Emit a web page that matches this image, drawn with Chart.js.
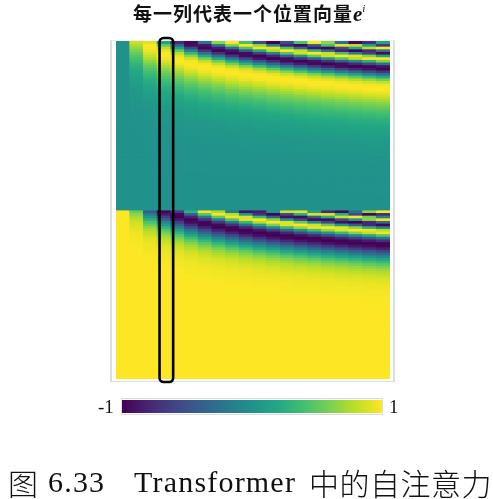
<!DOCTYPE html>
<html>
<head>
<meta charset="utf-8">
<script src="https://cdn.jsdelivr.net/npm/chart.js@4"></script>
<style>
  body { margin: 0; background: #fff; width: 493px; height: 499px; position: relative; overflow: hidden; }
  div, canvas, span { position: absolute; }
  #heat { left: 0; top: 0; filter: blur(0.35px); }
  #frame { left: 110px; top: 40px; width: 281px; height: 340px; border: solid #dedede; border-width: 1px 2px 1.5px 2px; border-top-color: #efefef; }
  #barFrame { left: 121px; top: 398px; width: 260px; height: 15px; border: 1px solid #ddd; }
  #bar { left: 122px; top: 400px; }
  #title { left: 133px; top: 0; height: 26px; line-height: 26px; white-space: nowrap; font: bold 19px/26px "Noto Sans CJK SC"; letter-spacing: 1px; color: #111; }
  #title i { font: italic bold 21px/26px "Liberation Serif"; letter-spacing: 0; }
  #title sup { font: italic 11px "Liberation Serif"; position: relative; top: -1px; vertical-align: 8px; letter-spacing: 0; }
  .tick { font: 19px/18px "Liberation Serif"; color: #111; top: 398px; }
  .cap { top: 464px; line-height: 36px; white-space: nowrap; color: #111; }
  .latin { font-family: "Liberation Serif"; font-size: 30px; letter-spacing: 1.2px; }
  .cjk { font-family: "Noto Sans CJK SC"; font-size: 30px; font-weight: 300; letter-spacing: 0.5px; }
</style>
</head>
<body>
<div id="frame"></div>
<canvas id="heat" width="493" height="499"></canvas>
<div id="barFrame"></div>
<canvas id="bar" width="260" height="13"></canvas>
<div id="title">每一列代表一个位置向量<i>e</i><sup>i</sup></div>
<span class="tick" id="tickLow" style="left:98px"></span>
<span class="tick" id="tickHigh" style="left:389px"></span>
<span class="cap cjk" style="left:8px">图</span>
<span class="cap latin" style="left:48px">6.33</span>
<span class="cap latin" style="left:134px">Transformer</span>
<span class="cap cjk" style="left:309px">中的自注意力</span>
<script>
const positions = [0,1,2,3,4,5,6,7,8,9,10,11,12,13,14,15,16,17,18,19];
const highlightColumn = 3;
const colorbarTicks = ['-1', '1'];
const viridisStops = ['#440154','#482475','#414487','#355f8d','#2a788e','#21918c','#22a884','#44bf70','#7ad151','#bddf26','#fde725'];

// cell values in hundredths, one row per vector dimension
const sinFlat = [0,0,0,0,0,0,0,0,0,0,0,0,0,0,0,0,0,0,0,0];
const cosFlat = [100,100,100,100,100,100,100,100,100,100,100,100,100,100,100,100,100,100,100,100];

const sinRows = [
  [0,84,91,14,-76,-96,-28,66,99,41,-54,-100,-54,42,99,65,-29,-96,-75,15],
  [0,76,99,52,-32,-93,-88,-22,60,100,69,-10,-82,-97,-43,41,96,83,12,-68],
  [0,68,100,78,14,-57,-98,-86,-28,45,94,92,41,-32,-88,-97,-54,18,80,99],
  [0,60,96,93,52,-11,-69,-99,-89,-43,21,76,100,83,33,-31,-82,-100,-77,-23],
  [0,53,90,99,78,32,-23,-71,-98,-94,-61,-10,45,86,100,84,41,-13,-64,-95],
  [0,47,83,99,93,65,22,-26,-69,-95,-99,-80,-43,5,51,85,100,91,61,17],
  [0,41,75,95,99,86,57,19,-23,-61,-88,-100,-94,-72,-37,4,45,77,97,99],
  [0,36,67,89,99,97,81,55,22,-15,-49,-77,-95,-100,-92,-72,-43,-7,29,61],
  [0,31,59,81,95,100,95,80,57,29,-2,-33,-61,-83,-96,-100,-94,-79,-56,-27],
  [0,27,52,73,89,98,100,94,81,63,39,13,-14,-41,-64,-82,-95,-100,-98,-88],
  [0,23,46,65,81,93,99,100,95,85,70,51,29,6,-18,-40,-61,-78,-90,-98],
  [0,20,40,58,73,86,94,99,100,96,89,77,63,45,26,6,-14,-34,-53,-69],
  [0,18,35,51,65,78,88,95,99,100,98,93,85,74,61,46,29,12,-6,-23],
  [0,15,30,45,58,70,80,88,94,98,100,99,96,91,83,74,63,50,36,21],
  [0,13,26,39,51,62,72,80,88,93,97,99,100,99,96,91,85,77,68,57],
  [0,12,23,34,45,55,64,72,80,86,91,96,98,100,100,99,96,92,87,81],
  [0,10,20,30,39,48,56,64,72,78,84,89,93,96,99,100,100,99,97,95],
  [0,9,17,26,34,42,50,57,64,70,76,82,86,90,94,96,98,99,100,100],
  [0,7,15,22,30,37,43,50,56,62,68,73,78,83,87,90,93,96,98,99],
  [0,6,13,19,26,32,38,44,50,55,60,65,70,75,79,83,86,89,92,94],
  [0,6,11,17,22,28,33,38,43,48,53,58,62,67,71,75,78,82,85,88],
  [0,5,10,15,19,24,29,33,38,42,47,51,55,59,63,67,70,74,77,80],
  [0,4,8,13,17,21,25,29,33,37,41,45,48,52,56,59,62,66,69,72],
  [0,4,7,11,15,18,22,25,29,32,36,39,43,46,49,52,55,58,61,64],
  [0,3,6,9,13,16,19,22,25,28,31,34,37,40,43,46,49,51,54,57],
  [0,3,5,8,11,14,16,19,22,24,27,30,32,35,38,40,43,45,48,50],
  [0,2,5,7,9,12,14,17,19,21,23,26,28,30,33,35,37,39,42,44],
  [0,2,4,6,8,10,12,14,16,18,20,22,24,27,29,30,32,34,36,38],
  [0,2,4,5,7,9,11,12,14,16,18,19,21,23,25,26,28,30,32,33],
  [0,2,3,5,6,8,9,11,12,14,15,17,18,20,21,23,24,26,27,29],
  [0,1,3,4,5,7,8,9,11,12,13,15,16,17,19,20,21,23,24,25],
  [0,1,2,3,5,6,7,8,9,10,12,13,14,15,16,17,18,20,21,22],
  [0,1,2,3,4,5,6,7,8,9,10,11,12,13,14,15,16,17,18,19],
  [0,1,2,3,3,4,5,6,7,8,9,10,10,11,12,13,14,15,16,16],
  [0,1,2,2,3,4,5,5,6,7,8,8,9,10,11,11,12,13,14,14],
  [0,1,1,2,3,3,4,5,5,6,7,7,8,8,9,10,10,11,12,12],
  [0,1,1,2,2,3,3,4,4,5,6,6,7,7,8,8,9,10,10,11],
  [0,0,1,1,2,2,3,3,4,4,5,5,6,6,7,7,8,8,9,9],
  [0,0,1,1,2,2,3,3,3,4,4,5,5,5,6,6,7,7,8,8],
  [0,0,1,1,1,2,2,3,3,3,4,4,4,5,5,6,6,6,7,7],
  [0,0,1,1,1,2,2,2,3,3,3,3,4,4,4,5,5,5,6,6],
  [0,0,1,1,1,1,2,2,2,2,3,3,3,4,4,4,4,5,5,5],
  [0,0,0,1,1,1,1,2,2,2,2,3,3,3,3,4,4,4,4,5],
  [0,0,0,1,1,1,1,1,2,2,2,2,2,3,3,3,3,3,4,4],
  [0,0,0,1,1,1,1,1,1,2,2,2,2,2,2,3,3,3,3,3],
  [0,0,0,0,1,1,1,1,1,1,2,2,2,2,2,2,2,3,3,3],
  [0,0,0,0,1,1,1,1,1,1,1,1,2,2,2,2,2,2,2,2],
  [0,0,0,0,0,1,1,1,1,1,1,1,1,1,2,2,2,2,2,2],
  [0,0,0,0,0,1,1,1,1,1,1,1,1,1,1,2,2,2,2,2],
  [0,0,0,0,0,0,1,1,1,1,1,1,1,1,1,1,1,1,2,2],
  [0,0,0,0,0,0,0,1,1,1,1,1,1,1,1,1,1,1,1,1],
  [0,0,0,0,0,0,0,0,1,1,1,1,1,1,1,1,1,1,1,1],
  [0,0,0,0,0,0,0,0,0,1,1,1,1,1,1,1,1,1,1,1],
  [0,0,0,0,0,0,0,0,0,0,0,1,1,1,1,1,1,1,1,1],
  [0,0,0,0,0,0,0,0,0,0,0,0,1,1,1,1,1,1,1,1],
  [0,0,0,0,0,0,0,0,0,0,0,0,0,0,1,1,1,1,1,1],
  [0,0,0,0,0,0,0,0,0,0,0,0,0,0,0,0,1,1,1,1],
  [0,0,0,0,0,0,0,0,0,0,0,0,0,0,0,0,0,0,0,1],
  sinFlat, sinFlat, sinFlat, sinFlat, sinFlat, sinFlat
];

const cosRows = [
  [100,54,-42,-99,-65,28,96,75,-15,-91,-84,0,84,91,14,-76,-96,-28,66,99],
  [100,65,-16,-86,-95,-37,47,98,80,6,-72,-99,-57,26,90,91,28,-55,-99,-74],
  [100,73,7,-63,-99,-82,-21,51,96,89,35,-39,-91,-95,-47,25,84,98,59,-11],
  [100,80,27,-37,-86,-99,-73,-16,47,90,98,65,6,-56,-95,-95,-57,4,64,97],
  [100,85,43,-12,-63,-95,-97,-70,-21,34,79,100,89,52,-2,-55,-91,-99,-77,-31],
  [100,88,56,11,-37,-76,-98,-96,-73,-32,16,60,90,100,86,52,6,-41,-79,-98],
  [100,91,67,30,-12,-51,-82,-98,-97,-80,-47,-7,34,69,93,100,89,63,26,-16],
  [100,93,75,46,11,-25,-58,-83,-98,-99,-87,-64,-32,4,39,69,90,100,96,79],
  [100,95,81,58,30,-1,-32,-60,-82,-96,-100,-95,-80,-57,-28,3,34,62,83,96],
  [100,96,85,68,46,20,-7,-34,-58,-78,-92,-99,-99,-91,-77,-57,-32,-6,21,47],
  [100,97,89,76,58,37,15,-9,-32,-53,-72,-86,-96,-100,-98,-91,-80,-63,-43,-21],
  [100,98,92,82,68,52,33,13,-7,-27,-47,-64,-78,-89,-96,-100,-99,-94,-85,-73],
  [100,98,94,86,76,63,48,32,15,-3,-21,-38,-53,-68,-79,-89,-96,-99,-100,-97],
  [100,99,95,90,82,72,60,47,33,18,3,-12,-27,-42,-55,-67,-78,-87,-93,-98],
  [100,99,96,92,86,79,70,60,48,36,23,10,-3,-16,-29,-42,-53,-64,-74,-82],
  [100,99,97,94,90,84,77,69,60,51,40,30,18,7,-5,-16,-27,-38,-49,-59],
  [100,100,98,96,92,88,83,76,70,62,54,45,36,27,17,7,-3,-13,-23,-32],
  [100,100,99,97,94,91,87,82,77,71,65,58,51,43,35,27,18,10,1,-7],
  [100,100,99,97,96,93,90,87,83,78,73,68,62,56,50,43,36,29,22,15],
  [100,100,99,98,97,95,92,90,87,83,80,76,71,66,61,56,51,45,39,33],
  [100,100,99,99,97,96,94,92,90,87,85,81,78,74,71,67,62,58,53,48],
  [100,100,100,99,98,97,96,94,92,91,88,86,83,81,78,74,71,68,64,60],
  [100,100,100,99,99,98,97,96,94,93,91,89,87,85,83,81,78,75,73,70],
  [100,100,100,99,99,98,98,97,96,95,93,92,90,89,87,85,83,81,79,77],
  [100,100,100,100,99,99,98,98,97,96,95,94,93,92,90,89,87,86,84,82],
  [100,100,100,100,99,99,99,98,98,97,96,95,95,94,93,92,90,89,88,87],
  [100,100,100,100,100,99,99,99,98,98,97,97,96,95,95,94,93,92,91,90],
  [100,100,100,100,100,99,99,99,99,98,98,97,97,96,96,95,95,94,93,92],
  [100,100,100,100,100,100,99,99,99,99,98,98,98,97,97,96,96,95,95,94],
  [100,100,100,100,100,100,100,99,99,99,99,99,98,98,98,97,97,97,96,96],
  [100,100,100,100,100,100,100,100,99,99,99,99,99,98,98,98,98,97,97,97],
  [100,100,100,100,100,100,100,100,100,99,99,99,99,99,99,99,98,98,98,98],
  [100,100,100,100,100,100,100,100,100,100,99,99,99,99,99,99,99,99,98,98],
  [100,100,100,100,100,100,100,100,100,100,100,100,99,99,99,99,99,99,99,99],
  [100,100,100,100,100,100,100,100,100,100,100,100,100,100,99,99,99,99,99,99],
  [100,100,100,100,100,100,100,100,100,100,100,100,100,100,100,100,99,99,99,99],
  [100,100,100,100,100,100,100,100,100,100,100,100,100,100,100,100,100,100,99,99],
  cosFlat, cosFlat, cosFlat, cosFlat, cosFlat, cosFlat, cosFlat, cosFlat, cosFlat,
  cosFlat, cosFlat, cosFlat, cosFlat, cosFlat, cosFlat, cosFlat, cosFlat, cosFlat,
  cosFlat, cosFlat, cosFlat, cosFlat, cosFlat, cosFlat, cosFlat, cosFlat, cosFlat
];

function hexToRgb(hex) {
  return [1, 3, 5].map(i => parseInt(hex.slice(i, i + 2), 16));
}

// value in hundredths, -100 to 100
function viridis(v) {
  const t = (v + 100) / 200 * (viridisStops.length - 1);
  const i = Math.min(Math.floor(t), viridisStops.length - 2);
  const a = hexToRgb(viridisStops[i]);
  const b = hexToRgb(viridisStops[i + 1]);
  const c = a.map((n, k) => Math.round(n + (b[k] - n) * (t - i)));
  return `rgb(${c[0]},${c[1]},${c[2]})`;
}

const allRows = sinRows.concat(cosRows);

// one stacked dataset per row, each cell is one unit tall
const heatDatasets = allRows.map(row => ({
  data: row.map(() => 1),
  backgroundColor: row.map(viridis),
  borderWidth: 0,
  inflateAmount: 0.4,
  barPercentage: 1,
  categoryPercentage: 1
}));

const highlightBox = {
  id: 'highlightBox',
  afterDatasetsDraw(chart) {
    const { ctx, scales: { x, y } } = chart;
    const center = x.getPixelForValue(highlightColumn);
    ctx.save();
    ctx.strokeStyle = '#000';
    ctx.lineWidth = 2.6;
    ctx.beginPath();
    ctx.roundRect(center - 4.4, y.top - 3, 13.6, y.bottom - y.top + 6, 4);
    ctx.stroke();
    ctx.restore();
  }
};

new Chart(document.getElementById('heat'), {
  type: 'bar',
  data: { labels: positions, datasets: heatDatasets },
  options: {
    responsive: false,
    animation: false,
    layout: { padding: { left: 116, right: 103, top: 41, bottom: 120 } },
    plugins: { legend: { display: false }, tooltip: { enabled: false } },
    scales: {
      x: { stacked: true, display: false },
      y: { stacked: true, display: false, reverse: true, min: 0, max: allRows.length }
    }
  },
  plugins: [highlightBox]
});

new Chart(document.getElementById('bar'), {
  type: 'bar',
  data: {
    labels: ['value'],
    datasets: [{
      data: [[-1, 1]],
      borderWidth: 0,
      barPercentage: 1,
      categoryPercentage: 1,
      backgroundColor(context) {
        const area = context.chart.chartArea;
        if (!area) return viridisStops[0];
        const g = context.chart.ctx.createLinearGradient(area.left, 0, area.right, 0);
        viridisStops.forEach((c, i) => g.addColorStop(i / (viridisStops.length - 1), c));
        return g;
      }
    }]
  },
  options: {
    indexAxis: 'y',
    responsive: false,
    animation: false,
    plugins: { legend: { display: false }, tooltip: { enabled: false } },
    scales: {
      x: { display: false, min: -1, max: 1 },
      y: { display: false }
    }
  }
});

document.getElementById('tickLow').textContent = colorbarTicks[0];
document.getElementById('tickHigh').textContent = colorbarTicks[1];
</script>
</body>
</html>
